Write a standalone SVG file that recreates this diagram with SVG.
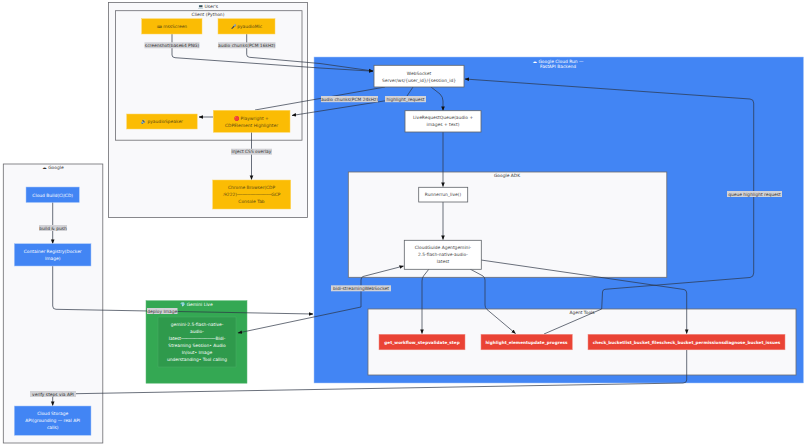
<svg xmlns="http://www.w3.org/2000/svg" width="806" height="446" viewBox="0 0 806 446">
<defs>
<style>
text{font-family:"DejaVu Sans","Liberation Sans","Noto Sans",sans-serif;font-size:4.4px;text-anchor:middle;fill:#333}
.sg{fill:#f9f9fb;stroke:#6b6b70;stroke-width:.8}
.title{fill:#333;font-weight:400}
.wt{fill:#fff}
.or rect{fill:#fbbc04;stroke:#fdd663;stroke-width:.5}
.or text{fill:#5c4a12}
.bl rect{fill:#4285f4;stroke:#a8c7fa;stroke-width:.5}
.bl text{fill:#fff}
.rd rect{fill:#ea4335;stroke:#f28b82;stroke-width:.5}
.rd text{fill:#fff;font-weight:700;font-size:4.2px}
.wh rect{fill:#fff;stroke:#5f6368;stroke-width:.8}
.wh text{fill:#444}
.edge{fill:none;stroke:#2b3344;stroke-width:.7;stroke-linejoin:round}
.lab rect{fill:#d2d2d6}
.lab text{fill:#333}
.ico{font-size:3.4px}
</style>
<marker id="arr" viewBox="0 0 10 10" refX="9" refY="5" markerWidth="4.500" markerHeight="4.500" markerUnits="userSpaceOnUse" orient="auto-start-reverse"><path d="M0 1L10 5L0 9Z" fill="#111"/></marker>
</defs>
<rect width="806" height="446" fill="#fff"/>

<g id="sg-user"><rect class="sg" x="108.500" y="2.500" width="199" height="215"/><text class="title" x="208" y="7.500">💻 User's</text></g>
<g id="sg-client"><rect class="sg" x="115.500" y="10.700" width="186.500" height="129.500"/><text class="title" x="208" y="15.600">Client (Python)</text></g>
<g id="sg-google"><rect class="sg" x="3.300" y="164" width="99.500" height="279"/><text class="title" x="53" y="169">☁ Google</text></g>
<g id="sg-cloudrun"><rect x="314" y="57" width="489.500" height="326" fill="#4285f4" stroke="#a8c7fa" stroke-width=".5"/><text class="wt" x="558" y="62.500">☁ Google Cloud Run —</text><text class="wt" x="558" y="68">FastAPI Backend</text></g>
<g id="sg-adk"><rect class="sg" x="348.300" y="172" width="318.500" height="105.300" stroke="#44546a"/><text class="title" x="507" y="177">Google ADK</text></g>
<g id="sg-tools"><rect class="sg" x="368" y="309" width="428" height="66"/><text class="title" x="582" y="313.600">Agent Tools</text></g>
<g id="sg-gemini"><rect x="146" y="300.700" width="101" height="82.500" fill="#34a853" stroke="#5bb974" stroke-width=".5"/><text class="wt" x="196.500" y="305.500">💎 Gemini Live</text></g>

<g id="connectors">
<path class="edge" marker-end="url(#arr)" d="M172 34V55Q172 57.500 175 57.700L320 68L373 71.200"/>
<path class="edge" marker-end="url(#arr)" d="M246.700 34V54.500Q246.700 57 249.500 57.300L320 63.500L373 71"/>
<path class="edge" d="M385 87L255 110"/>
<path class="edge" marker-end="url(#arr)" d="M213 117H199"/>
<path class="edge" marker-end="url(#arr)" d="M413 87L406 97.500L292 115.500"/>
<path class="edge" marker-end="url(#arr)" d="M431 87L440 94Q443 97 443 101V110.500"/>
<path class="edge" marker-end="url(#arr)" d="M443 132V186.500"/>
<path class="edge" marker-end="url(#arr)" d="M443 202V239.500"/>
<path class="edge" marker-start="url(#arr)" marker-end="url(#arr)" d="M403.500 266L363 276.500Q361 277.200 361 280V307L238 333"/>
<path class="edge" marker-end="url(#arr)" d="M429 269L423.500 276Q422 278 422 281V333.500"/>
<path class="edge" marker-end="url(#arr)" d="M470 269L483 276Q485 277.500 485 280V305Q485 308 487 309.500L515.500 333.500"/>
<path class="edge" marker-end="url(#arr)" d="M481 260L684 289.500Q686.700 290 686.700 293V333.500"/>
<path class="edge" marker-end="url(#arr)" d="M544 334L601.700 309L602.500 292Q602.700 289.500 605 289.300L750 277.500Q753.700 277 753.700 273V103Q753.700 99.300 750 99L465 79"/>
<path class="edge" marker-end="url(#arr)" d="M52.700 202V243.500"/>
<path class="edge" marker-end="url(#arr)" d="M52.700 266V306Q52.700 309.300 56 309.300L313 314"/>
<path class="edge" marker-end="url(#arr)" d="M686.700 350V380Q686.700 383 683 383L76 393.700H56Q52.700 393.700 52.700 397V405.500"/>
<path class="edge" marker-end="url(#arr)" d="M251.500 132V179.500"/>
</g>

<g id="labels">
<g class="lab"><rect x="144.500" y="42.300" width="55" height="6"/><text x="172" y="46.800">screenshot(base64 PNG)</text></g>
<g class="lab"><rect x="218" y="42.300" width="57.500" height="6"/><text x="246.700" y="46.800">audio chunks(PCM 16kHz)</text></g>
<g class="lab"><rect x="321" y="96" width="57" height="6.200"/><text x="349.500" y="100.700">audio chunks(PCM 24kHz)</text></g>
<g class="lab"><rect x="385" y="96" width="41" height="6.200"/><text x="405.500" y="100.700">highlight_request</text></g>
<g class="lab"><rect x="231" y="148.700" width="41" height="6"/><text x="251.500" y="153.200">inject CSS overlay</text></g>
<g class="lab"><rect x="39" y="225" width="28" height="6"/><text x="53" y="229.500">build &amp; push</text></g>
<g class="lab"><rect x="147" y="308" width="30.500" height="6"/><text x="162.200" y="312.500">deploy Image</text></g>
<g class="lab"><rect x="331" y="285.300" width="60" height="6"/><text x="361" y="289.800">bidi-streamingWebSocket</text></g>
<g class="lab"><rect x="727" y="191" width="55" height="6"/><text x="754.500" y="195.500">queue highlight request</text></g>
<g class="lab"><rect x="30" y="391" width="46" height="6"/><text x="53" y="395.500">verify steps via API</text></g>
</g>

<g id="mss" class="or"><rect x="141.700" y="18.700" width="60.300" height="15.300"/><text x="172" y="28"><tspan class="ico">⌨</tspan> mssScreen</text></g>
<g id="mic" class="or"><rect x="218" y="18.700" width="57" height="15.300"/><text x="246.500" y="28">🎤 pyaudioMic</text></g>
<g id="speaker" class="or"><rect x="126.700" y="114" width="70.500" height="15"/><text x="162" y="123">🔊 pyaudioSpeaker</text></g>
<g id="playwright" class="or"><rect x="213.300" y="110.300" width="76.700" height="22"/><text x="251.500" y="119.500">🔴 Playwright +</text><text x="251.500" y="126.500">CDPElement Highlighter</text></g>
<g id="chrome" class="or"><rect x="212.700" y="180" width="78" height="29"/><text x="251.500" y="189">Chrome Browser(CDP</text><text x="251.500" y="196">:9222)─────────────GCP</text><text x="251.500" y="203">Console Tab</text></g>

<g id="build" class="bl"><rect x="26" y="187" width="53.300" height="15.500"/><text x="52.700" y="196.500">Cloud Build(CI/CD)</text></g>
<g id="registry" class="bl"><rect x="14.300" y="243.700" width="76.700" height="22.300"/><text x="52.700" y="253">Container Registry(Docker</text><text x="52.700" y="260">Image)</text></g>
<g id="storage" class="bl"><rect x="14.300" y="406" width="76.700" height="29.300"/><text x="52.700" y="415">Cloud Storage</text><text x="52.700" y="422">API(grounding — real API</text><text x="52.700" y="429">calls)</text></g>

<g id="websocket" class="wh"><rect x="374" y="65.300" width="90" height="21.700"/><text x="419" y="74.500">WebSocket</text><text x="419" y="81.500">Server/ws/{user_id}/{session_id}</text></g>
<g id="queue" class="wh"><rect x="405" y="110.700" width="76" height="21.300"/><text x="443" y="119">LiveRequestQueue(audio +</text><text x="443" y="126">images + text)</text></g>
<g id="runner" class="wh"><rect x="418.700" y="187.300" width="49" height="14.700"/><text x="443" y="196">Runnerrun_live()</text></g>
<g id="agent" class="wh"><rect x="404.300" y="240.300" width="77" height="29"/><text x="443" y="249">CloudGuide Agentgemini-</text><text x="443" y="256">2.5-flash-native-audio-</text><text x="443" y="263">latest</text></g>

<g id="tool-workflow" class="rd"><rect x="379" y="334.300" width="86" height="15.500"/><text x="422" y="343.700">get_workflow_stepvalidate_step</text></g>
<g id="tool-highlight" class="rd"><rect x="481" y="334.300" width="91.300" height="15.500"/><text x="526.500" y="343.700">highlight_elementupdate_progress</text></g>
<g id="tool-bucket" class="rd"><rect x="588" y="334.300" width="197" height="15.500"/><text x="686.500" y="343.700">check_bucketlist_bucket_filescheck_bucket_permissionsdiagnose_bucket_issues</text></g>

<g id="model"><rect x="158" y="317" width="78" height="50" fill="#2f9a4c" stroke="#49ad66" stroke-width=".5"/>
<text class="wt" x="197" y="326">gemini-2.5-flash-native-</text><text class="wt" x="197" y="333">audio-</text><text class="wt" x="197" y="340">latest─────────────Bidi-</text><text class="wt" x="197" y="347">Streaming Session• Audio</text><text class="wt" x="197" y="354">In/out• Image</text><text class="wt" x="197" y="361">understanding• Tool calling</text></g>
</svg>
